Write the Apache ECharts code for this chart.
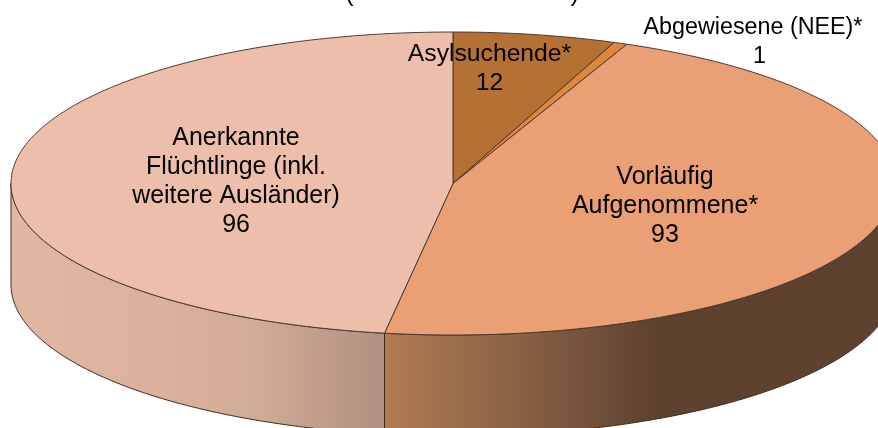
<!DOCTYPE html>
<html>
<head>
<meta charset="utf-8">
<style>
html, body { margin: 0; padding: 0; background: #fff; }
#main { width: 878px; height: 428px; }
</style>
<script src="https://cdn.jsdelivr.net/npm/echarts@6/dist/echarts.min.js"></script>
</head>
<body>
<div id="main"></div>
<script>
var categories = ['Asylsuchende*', 'Abgewiesene (NEE)*', 'Vorläufig\nAufgenommene*', 'Anerkannte\nFlüchtlinge (inkl.\nweitere Ausländer)'];
var values = [12, 1, 93, 96];
var topColors = ['#B57033', '#DE873D', '#EAA074', '#EDBFAA'];

// pie geometry
var cx = 453, cy = 183.5, rx = 442, ry = 151.5, depth = 101;
var FONT = '"Liberation Sans", Arial, sans-serif';

// label centres and font sizes, same order as categories
var labelPos = [[489.5, 69], [753, 42], [665, 206], [236, 182]];
var labelSize = [24.7, 23.3, 25, 24.9];

var total = values.reduce(function (a, b) { return a + b; }, 0);
var starts = [];
values.reduce(function (sum, v, i) { starts[i] = sum; return sum + v; }, 0);

function toAngle(v) { return v / total * Math.PI * 2; }
function pt(a, dy) {
    return [cx + rx * Math.sin(a), cy - ry * Math.cos(a) + (dy || 0)];
}
function arc(a0, a1, dy) {
    var n = Math.max(2, Math.ceil((a1 - a0) / 0.01)), out = [];
    for (var i = 0; i <= n; i++) out.push(pt(a0 + (a1 - a0) * i / n, dy));
    return out;
}

var leftWall = new echarts.graphic.LinearGradient(11, 0, 385, 0, [
    { offset: 0, color: '#E2B7A2' },
    { offset: 0.4, color: '#DCB19B' },
    { offset: 0.65, color: '#D2AC94' },
    { offset: 1, color: '#B09081' }
], true);
var rightWall = new echarts.graphic.LinearGradient(385, 0, 655, 0, [
    { offset: 0, color: '#B17B52' },
    { offset: 0.43, color: '#8E6547' },
    { offset: 0.8, color: '#6F4E38' },
    { offset: 1, color: '#5F4130' }
], true);

function renderSlice(params, api) {
    var i = params.dataIndex;
    var a0 = toAngle(api.value(1)), a1 = a0 + toAngle(api.value(0));
    var children = [];
    var w0 = Math.max(a0, Math.PI / 2), w1 = Math.min(a1, Math.PI * 1.5);
    if (w1 > w0) {
        children.push({
            type: 'polygon',
            shape: { points: arc(w0, w1, 0).concat(arc(w0, w1, depth).reverse()) },
            style: { fill: a1 > Math.PI * 1.5 ? leftWall : rightWall, stroke: '#3a2c24', lineWidth: 1 }
        });
    }
    children.push({
        type: 'polygon',
        shape: { points: [[cx, cy]].concat(arc(a0, a1, 0)) },
        style: { fill: topColors[i], stroke: '#4a3a30', lineWidth: 1 }
    });
    return { type: 'group', children: children };
}

function renderLabel(params, api) {
    var i = params.dataIndex;
    // the "1" sits a little right of its label's centre in the original
    var pad = i === 1 ? '\u00a0\u00a0' : '';
    return {
        type: 'text',
        style: {
            text: categories[i] + '\n' + pad + api.value(0),
            x: labelPos[i][0],
            y: labelPos[i][1],
            align: 'center',
            verticalAlign: 'middle',
            font: labelSize[i] + 'px ' + FONT,
            lineHeight: 29,
            fill: '#000'
        }
    };
}

var myChart = echarts.init(document.getElementById('main'), null, { renderer: 'canvas' });

var option = {
    animation: false,
    backgroundColor: '#fff',
    // only the closing ends of the title's brackets are left in the picture
    graphic: [
        { type: 'text', silent: true, style: { text: '(', x: 349.5, y: 7, align: 'center', verticalAlign: 'bottom', font: '25px ' + FONT, fill: '#000' } },
        { type: 'text', silent: true, style: { text: ')', x: 575, y: 7, align: 'center', verticalAlign: 'bottom', font: '25px ' + FONT, fill: '#000' } }
    ],
    series: [
        {
            type: 'custom',
            coordinateSystem: 'none',
            clip: false,
            silent: true,
            data: values.map(function (v, i) { return [v, starts[i]]; }),
            renderItem: renderSlice
        },
        {
            type: 'custom',
            coordinateSystem: 'none',
            silent: true,
            z: 5,
            data: values.map(function (v) { return [v]; }),
            renderItem: renderLabel
        }
    ]
};

myChart.setOption(option);
</script>
</body>
</html>
